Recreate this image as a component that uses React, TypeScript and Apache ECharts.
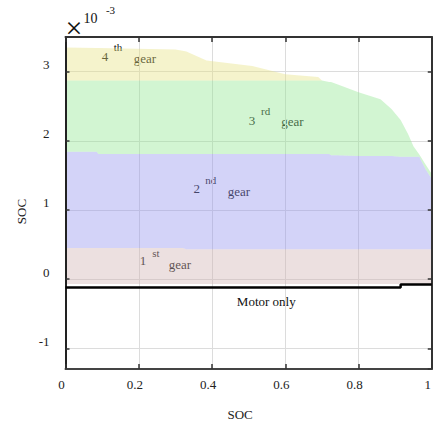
import React, { useEffect, useRef } from "react";
import * as echarts from "echarts";

// SOC sample points shared by all gear-region boundaries
const socX = [0, 0.085, 0.09, 0.3, 0.32, 0.33, 0.385, 0.51, 0.6, 0.69, 0.7, 0.72, 0.725, 0.74, 0.8, 0.86, 0.89, 0.915, 0.935, 0.95, 0.966, 0.984, 1.0];
// region boundaries (units of 1e-3)
const gear1Bottom = [-0.07, -0.07, -0.07, -0.07, -0.07, -0.07, -0.07, -0.07, -0.07, -0.07, -0.07, -0.07, -0.07, -0.07, -0.07, -0.07, -0.07, -0.07, -0.07, -0.07, -0.07, -0.07, -0.07];
const gear1Top = [0.45, 0.45, 0.45, 0.45, 0.45, 0.43, 0.43, 0.43, 0.43, 0.43, 0.43, 0.43, 0.43, 0.43, 0.43, 0.43, 0.43, 0.43, 0.43, 0.43, 0.43, 0.43, 0.43];
const gear2Top = [1.84, 1.84, 1.81, 1.81, 1.81, 1.81, 1.81, 1.81, 1.81, 1.81, 1.81, 1.81, 1.79, 1.79, 1.78, 1.78, 1.78, 1.77, 1.77, 1.77, 1.77, 1.58, 1.45];
const gear3Top = [2.87, 2.87, 2.87, 2.87, 2.87, 2.87, 2.87, 2.87, 2.87, 2.87, 2.87, 2.85, 2.85, 2.82, 2.7, 2.6, 2.46, 2.3, 2.1, 1.92, 1.8, 1.65, 1.52];
const gear4Top = [3.35, 3.34, 3.34, 3.32, 3.3, 3.29, 3.16, 3.08, 2.96, 2.92, 2.87, 2.85, 2.85, 2.82, 2.7, 2.6, 2.46, 2.3, 2.1, 1.92, 1.8, 1.65, 1.52];
// motor-only boundary
const motorX = [0, 0.915, 1];
const motorY = [-0.12, -0.08, -0.08];

const FONT = "Liberation Serif";

export default function App() {
  const ref = useRef<HTMLDivElement>(null);
  useEffect(() => {
    if (!ref.current) return;
    const chart = echarts.init(ref.current, undefined, { renderer: "svg" });
    const bands = [
      { name: "1st gear", top: gear1Top, bottom: gear1Bottom, color: "rgba(208,178,178,0.4)" },
      { name: "2nd gear", top: gear2Top, bottom: gear1Top, color: "rgba(145,145,238,0.4)" },
      { name: "3rd gear", top: gear3Top, bottom: gear2Top, color: "rgba(143,230,143,0.4)" },
      { name: "4th gear", top: gear4Top, bottom: gear3Top, color: "rgba(230,225,128,0.4)" },
    ];
    const bandSeries = bands.map((b) => ({
      name: b.name,
      type: "custom",
      silent: true,
      clip: true,
      encode: { x: 0, y: [1, 2] },
      data: socX.map((x, i) => [x, b.bottom[i], b.top[i]]),
      renderItem: (params: any, api: any) => {
        if (params.dataIndex !== 0) return null;
        const pts: number[][] = [];
        for (let i = 0; i < socX.length; i++) pts.push(api.coord([socX[i], b.top[i]]));
        for (let i = socX.length - 1; i >= 0; i--) pts.push(api.coord([socX[i], b.bottom[i]]));
        return { type: "polygon", shape: { points: pts }, style: { fill: b.color, stroke: "none" } };
      },
      z: 2,
    }));
    const txt = (text: string, x: number, y: number, size: number) => ({
      type: "text",
      x,
      y,
      style: {
        text, fill: "#111", fontFamily: FONT, fontSize: size,
        align: "center", verticalAlign: "middle", textAlign: "center", textVerticalAlign: "middle",
      },
    });
    const lbl = { fontFamily: FONT, fontSize: 13, color: "#222" };
    const option: any = {
      animation: false,
      grid: { left: 65.5, right: 1.5, top: 37, bottom: 55 },
      xAxis: [
        {
          type: "value", min: 0, max: 1, interval: 0.2, position: "bottom", z: 3,
          name: "SOC", nameLocation: "middle", nameGap: 39,
          nameTextStyle: { ...lbl, padding: [0, 17, 0, 0] },
          axisLine: { show: true, onZero: false, lineStyle: { color: "#444", width: 2 } },
          axisTick: { show: true, inside: true, length: 5, lineStyle: { color: "#333", width: 1.5 } },
          axisLabel: { ...lbl, margin: 9, padding: [0, 8, 0, 0] },
          splitLine: { show: false },
        },
        {
          type: "value", min: 0, max: 1, interval: 0.2, position: "top", z: 3,
          axisLine: { show: true, onZero: false, lineStyle: { color: "#333", width: 2 } },
          axisTick: { show: true, inside: true, length: 5, lineStyle: { color: "#333", width: 1.5 } },
          axisLabel: { show: false },
          splitLine: { show: false },
        },
        {
          type: "value", min: 0, max: 1, interval: 0.2, position: "bottom", z: 0,
          axisLine: { show: false }, axisTick: { show: false }, axisLabel: { show: false },
          splitLine: { show: true, lineStyle: { color: "#dcdcdc", width: 1 } },
        },
      ],
      yAxis: [
        {
          type: "value", min: -1.3, max: 3.5, splitNumber: 5, position: "left", z: 3,
          name: "SOC", nameLocation: "middle", nameGap: 32,
          nameTextStyle: { ...lbl, padding: [0, 17, 0, 0] },
          axisLine: { show: true, onZero: false, lineStyle: { color: "#222", width: 2 } },
          axisTick: { show: true, inside: true, length: 4, lineStyle: { color: "#333", width: 1.5 } },
          axisLabel: { ...lbl, margin: 16, verticalAlign: "bottom", lineHeight: 14, showMinLabel: false, showMaxLabel: false },
          splitLine: { show: false },
        },
        {
          type: "value", min: -1.3, max: 3.5, splitNumber: 5, position: "right", z: 3,
          axisLine: { show: true, onZero: false, lineStyle: { color: "#333", width: 2 } },
          axisTick: { show: true, inside: true, length: 4, lineStyle: { color: "#333", width: 1.5 } },
          axisLabel: { show: false },
          splitLine: { show: false },
        },
        {
          type: "value", min: -1.3, max: 3.5, splitNumber: 5, position: "left", z: 0,
          axisLine: { show: false }, axisTick: { show: false }, axisLabel: { show: false },
          splitLine: { show: true, lineStyle: { color: "#dcdcdc", width: 1 } },
        },
      ],
      series: [
        ...bandSeries,
        {
          name: "Motor only",
          type: "line",
          step: "end",
          symbol: "none",
          silent: true,
          lineStyle: { color: "#000", width: 2.5 },
          data: motorX.map((x, i) => [x, motorY[i]]),
          z: 4,
        },
      ],
      graphic: [
        txt("×", 74, 27, 30),
        txt("10", 90.5, 18, 14),
        txt("-3", 110.5, 10, 11),
        txt("4", 105, 56.7, 13),
        txt("th", 118, 46.7, 11),
        txt("gear", 145, 58, 13),
        txt("3", 252, 120, 13),
        txt("rd", 265.7, 111, 11),
        txt("gear", 292.5, 121.7, 13),
        txt("2", 196.7, 188.3, 13),
        txt("nd", 210.7, 180, 11),
        txt("gear", 239, 191.7, 13),
        txt("1", 143, 260.7, 13),
        txt("st", 156, 252.7, 11),
        txt("gear", 180, 264, 13),
        txt("Motor only", 266.3, 301.7, 13),
      ],
    };
    chart.setOption(option);
    return () => chart.dispose();
  }, []);
  return <div ref={ref} style={{ width: 434, height: 426, position: "absolute", left: 0, top: 0 }} />;
}
